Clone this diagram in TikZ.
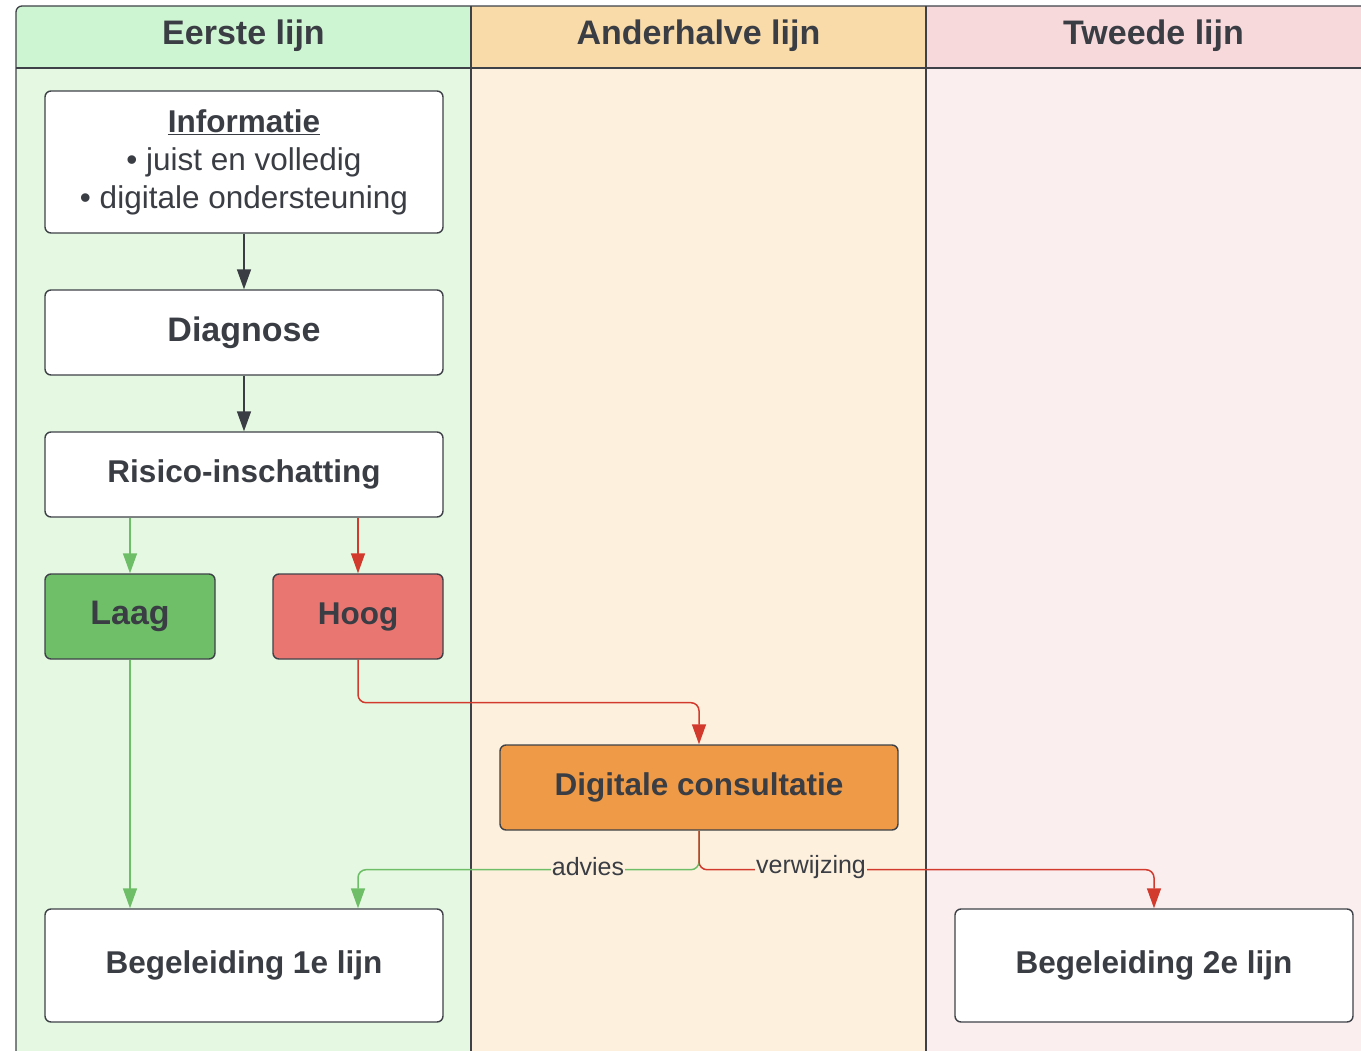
\documentclass[tikz,border=0pt]{standalone}
\usepackage{fontspec}
\setmainfont{Liberation Sans}
\usetikzlibrary{arrows.meta}
\definecolor{txt}{HTML}{3A3D44}
\definecolor{edge}{HTML}{3E4248}
\definecolor{ghead}{HTML}{CEF5D1}
\definecolor{gbody}{HTML}{E5F8E2}
\definecolor{ohead}{HTML}{F8DBA9}
\definecolor{obody}{HTML}{FDF1DD}
\definecolor{phead}{HTML}{F8D9DB}
\definecolor{pbody}{HTML}{FBEEEE}
\definecolor{laagc}{HTML}{6EBF68}
\definecolor{hoogc}{HTML}{EA7671}
\definecolor{digc}{HTML}{EE9A46}
\definecolor{garrc}{HTML}{6EBE68}
\definecolor{rarrc}{HTML}{D33A2E}
\tikzset{
  lanebox/.style={draw=edge, line width=1.3pt},
  hdr/.style={text=txt, font=\fontsize{34}{40}\selectfont\bfseries, inner sep=0pt},
  procbox/.style={draw=edge, line width=1.4pt, rounded corners=6pt, fill=white, text=txt,
     minimum width=398pt, minimum height=85pt, inner sep=0pt, align=center,
     font=\fontsize{31.5}{38}\selectfont\bfseries},
  smallbox/.style={procbox, minimum width=170pt},
  conn/.style={line width=1.5pt, rounded corners=8pt, -{Triangle[width=14pt,length=20pt]}},
  darr/.style={conn, draw=txt},
  garr/.style={conn, draw=garrc},
  rarr/.style={conn, draw=rarrc},
  lbl/.style={text=txt, fill=obody, inner sep=1pt, font=\fontsize{25}{30}\selectfont}
}
\begin{document}
\begin{tikzpicture}[x=1pt,y=-1pt]
\useasboundingbox (0,0) rectangle (1361,1051);
% lane bodies
\fill[gbody] (16,68) rectangle (471,1051);
\fill[obody] (471,68) rectangle (926,1051);
\fill[pbody] (926,68) rectangle (1361,1051);
% lane headers
\fill[ghead] (16,68) [rounded corners=6pt] -- (16,6) [sharp corners] -- (471,6) -- (471,68) -- cycle;
\fill[ohead] (471,6) rectangle (926,68);
\fill[phead] (926,6) rectangle (1361,68);
% lane borders
\draw[lanebox] (16,1051) [rounded corners=6pt] -- (16,6) [sharp corners] -- (1361,6);
\draw[lanebox] (16,68) -- (1361,68);
\draw[lanebox] (471,6) -- (471,1051);
\draw[lanebox] (926,6) -- (926,1051);
\node[hdr] (h1) at (243.5,36) {Eerste lijn};
\node[hdr] (h2) at (698.5,36) {Anderhalve lijn};
\node[hdr] (h3) at (1153.5,36) {Tweede lijn};
% nodes
\node[procbox, minimum height=142pt, font=\fontsize{31.5}{38}\selectfont] (info) at (244,162)
  {\textbf{\underline{Informatie}}\\• juist en volledig\\• digitale ondersteuning};
\node[procbox, font=\fontsize{34}{40}\selectfont\bfseries] (diag) at (244,332.5) {Diagnose};
\node[procbox] (risk) at (244,474.5) {Risico-inschatting};
\node[smallbox, fill=laagc, font=\fontsize{34}{40}\selectfont\bfseries] (laag) at (130,616.5) {Laag};
\node[smallbox, fill=hoogc] (hoog) at (358,616.5) {Hoog};
\node[procbox, fill=digc] (dig) at (699,787.5) {Digitale consultatie};
\node[procbox, minimum height=113pt] (beg1) at (244,965.5) {Begeleiding 1e lijn};
\node[procbox, minimum height=113pt] (beg2) at (1154,965.5) {Begeleiding 2e lijn};
% connectors
\draw[darr] (info) -- (diag);
\draw[darr] (diag) -- (risk);
\draw[garr] (risk.south -| laag.north) -- (laag.north);
\draw[rarr] (risk.south -| hoog.north) -- (hoog.north);
\draw[garr] (laag.south) -- (laag.south |- beg1.north);
\draw[rarr] (hoog.south) -- ++(0,43) -| (dig.north);
\draw[garr] (dig.south) -- ++(0,39) -| (hoog.south |- beg1.north);
\draw[rarr] (dig.south) -- ++(0,39) -| (beg2.north);
\node[lbl] (adv) at (588,867) {advies};
\node[lbl] (verw) at (811,867) {verwijzing};
\end{tikzpicture}
\end{document}
